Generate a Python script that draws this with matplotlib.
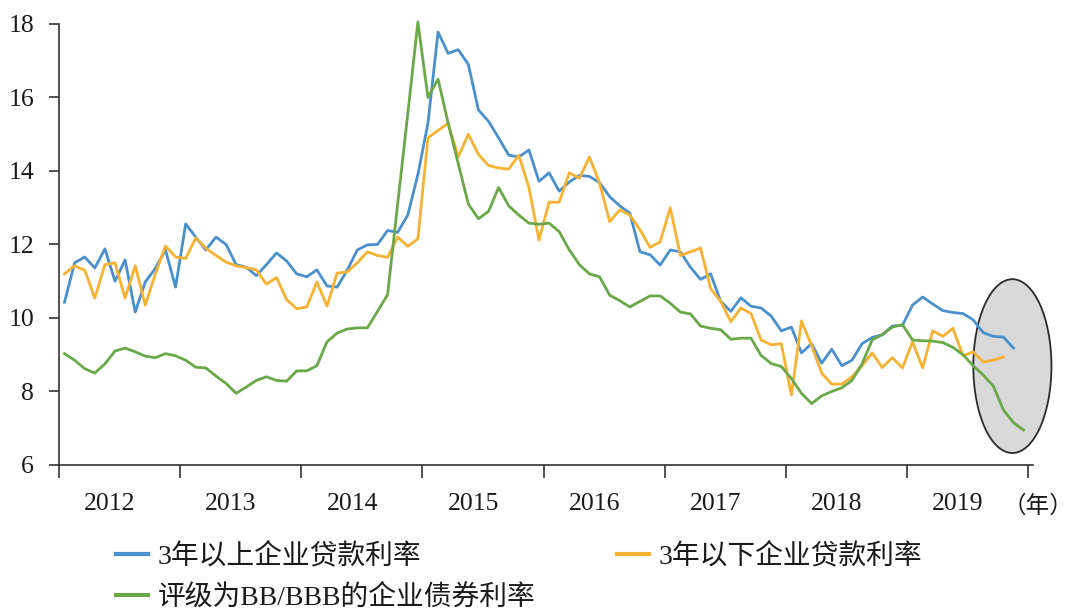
import numpy as np
import matplotlib
matplotlib.use("Agg")
import matplotlib.pyplot as plt
from matplotlib.patches import Ellipse

plt.rcParams['font.family'] = ['Liberation Serif', 'Noto Sans CJK SC', 'DejaVu Sans']

# ---- data (monthly, starting Jan 2012) ----
long_loan = [10.43, 11.5, 11.66, 11.36, 11.88, 11.0, 11.58, 10.16, 10.98, 11.35,
             11.85, 10.84, 12.56, 12.2, 11.85, 12.2, 12.0, 11.45, 11.38, 11.15,
             11.45, 11.77, 11.55, 11.2, 11.12, 11.31, 10.87, 10.84, 11.3, 11.85,
             11.99, 12.0, 12.38, 12.33, 12.8, 13.9, 15.3, 17.78, 17.2, 17.3,
             16.9, 15.66, 15.35, 14.9, 14.43, 14.38, 14.57, 13.72, 13.95, 13.45,
             13.7, 13.88, 13.85, 13.68, 13.3, 13.05, 12.85, 11.8, 11.72, 11.44,
             11.85, 11.8, 11.38, 11.05, 11.2, 10.45, 10.18, 10.55, 10.32, 10.27,
             10.05, 9.65, 9.75, 9.05, 9.3, 8.77, 9.15, 8.7, 8.85, 9.3,
             9.47, 9.54, 9.78, 9.8, 10.35, 10.57, 10.38, 10.2, 10.15, 10.12,
             9.95, 9.6, 9.5, 9.48, 9.18]
short_loan = [11.2, 11.42, 11.3, 10.54, 11.45, 11.5, 10.54, 11.42, 10.35, 11.2,
              11.96, 11.66, 11.62, 12.18, 11.9, 11.7, 11.52, 11.42, 11.37, 11.31,
              10.92, 11.1, 10.5, 10.25, 10.3, 10.98, 10.32, 11.22, 11.25, 11.5,
              11.8, 11.7, 11.65, 12.2, 11.95, 12.15, 14.9, 15.1, 15.3, 14.38,
              15.0, 14.45, 14.15, 14.08, 14.05, 14.43, 13.55, 12.12, 13.15, 13.15,
              13.95, 13.8, 14.38, 13.67, 12.62, 12.94, 12.8, 12.4, 11.92, 12.07,
              13.0, 11.7, 11.8, 11.9, 10.8, 10.45, 9.9, 10.27, 10.12, 9.4,
              9.27, 9.3, 7.9, 9.92, 9.25, 8.5, 8.2, 8.2, 8.4, 8.7,
              9.05, 8.65, 8.92, 8.64, 9.35, 8.64, 9.65, 9.5, 9.72, 8.97,
              9.08, 8.8, 8.85, 8.94]
bond = [9.03, 8.85, 8.62, 8.5, 8.75, 9.1, 9.18, 9.08, 8.96, 8.92,
        9.03, 8.97, 8.85, 8.66, 8.64, 8.42, 8.22, 7.95, 8.12, 8.3,
        8.4, 8.3, 8.28, 8.56, 8.56, 8.7, 9.35, 9.59, 9.7, 9.73,
        9.73, 10.18, 10.63, 13.1, 15.55, 18.05, 16.0, 16.5, 15.3, 14.2,
        13.1, 12.7, 12.9, 13.55, 13.05, 12.8, 12.58, 12.55, 12.58, 12.35,
        11.85, 11.45, 11.2, 11.12, 10.62, 10.47, 10.3, 10.45, 10.6, 10.6,
        10.4, 10.16, 10.11, 9.78, 9.72, 9.68, 9.42, 9.45, 9.45, 8.98,
        8.76, 8.68, 8.35, 7.95, 7.67, 7.88, 8.0, 8.1, 8.3, 8.75,
        9.4, 9.55, 9.75, 9.82, 9.4, 9.38, 9.37, 9.33, 9.2, 9.0,
        8.7, 8.45, 8.15, 7.5, 7.15, 6.95]

years = [2012, 2013, 2014, 2015, 2016, 2017, 2018, 2019]
labels = ['3年以上企业贷款利率', '3年以下企业贷款利率', '评级为BB/BBB的企业债券利率']
colors = ['#4a90cd', '#f7b233', '#6aa84a']
start_year = 2012


def month_x(series):
    m = np.arange(len(series))
    return start_year + (m + 0.55) / 12.0


fig = plt.figure(figsize=(10.74, 6.11), dpi=100)
ax = fig.add_axes([0.0549, 0.239, 0.9069, 0.7218])

# highlight ellipse (behind lines)
ell = Ellipse((2019.87, 8.69), width=0.645, height=4.73, facecolor='#d9d9d9',
              edgecolor='#2b2b2b', linewidth=1.3, zorder=1, clip_on=False)
ax.add_patch(ell)

handles = []
for s, lab, c in zip([long_loan, short_loan, bond], labels, colors):
    h, = ax.plot(month_x(s), s, color=c, lw=2.0, label=lab, zorder=3,
                 clip_on=False, solid_joinstyle='round')
    handles.append(h)

ax.set_xlim(2012, 2020.04)
ax.set_ylim(6, 18)
ax.set_yticks(np.arange(6, 19, 2))

ax.set_xticks(np.arange(2012, 2021))
ax.set_xticklabels([])
ax.set_xticks([y + 0.42 for y in years], minor=True)
ax.set_xticklabels([str(y) for y in years], minor=True)

for side in ['top', 'right']:
    ax.spines[side].set_visible(False)
for side in ['left', 'bottom']:
    ax.spines[side].set_color('#333333')
    ax.spines[side].set_linewidth(1.2)

ax.tick_params(axis='y', direction='out', length=7, width=1.2, color='#333333',
               labelsize=18.5, pad=11, labelcolor='#1a1a1a')
ax.tick_params(axis='x', which='major', direction='out', length=9.5, width=1.2,
               color='#333333')
ax.tick_params(axis='x', which='minor', length=0, labelsize=18.5, pad=20,
               labelcolor='#1a1a1a')

ax.text(1.005, -0.0935, '（年）', transform=ax.transAxes, ha='center', va='center',
        fontsize=17, color='#1a1a1a', family=['Noto Sans CJK SC', 'DejaVu Sans'])

leg = fig.legend([handles[0], handles[2], handles[1]],
                 [labels[0], labels[2], labels[1]],
                 ncol=2, loc='upper left', bbox_to_anchor=(0.108, 0.112),
                 frameon=False, fontsize=20, handlelength=1.15,
                 handletextpad=0.35, columnspacing=2.95, labelspacing=0.55,
                 borderaxespad=0, borderpad=0)
for t in leg.get_texts():
    t.set_color('#1a1a1a')
for l in leg.get_lines():
    l.set_linewidth(3)

fig.savefig('out.png', dpi=100)
